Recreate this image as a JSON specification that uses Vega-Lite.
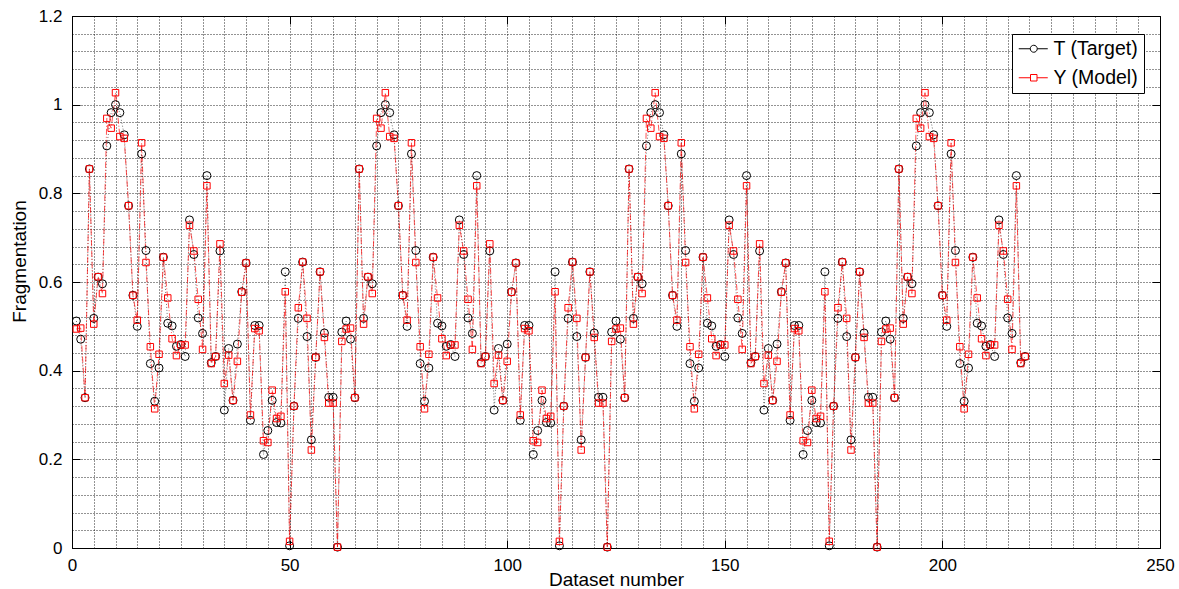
{
"$schema": "https://vega.github.io/schema/vega-lite/v6.json",
"width": 1088, "height": 532,
"autosize": {"type": "none"},
"padding": {"left": 72, "top": 16, "right": 19, "bottom": 41},
"background": "white",
"config": {
  "view": {"stroke": "black", "strokeWidth": 1},
  "font": "Liberation Sans",
  "axis": {"labelFont": "Liberation Sans", "titleFont": "Liberation Sans", "labelColor": "black", "titleColor": "black", "titleFontWeight": "normal", "tickColor": "black", "domainColor": "black"}
},
"datasets": {"d": [
{"n":1,"T":0.512,"Y":0.494},{"n":2,"T":0.471,"Y":0.496},{"n":3,"T":0.339,"Y":0.339},{"n":4,"T":0.855,"Y":0.855},{"n":5,"T":0.518,"Y":0.505},{"n":6,"T":0.611,"Y":0.612},{"n":7,"T":0.596,"Y":0.574},{"n":8,"T":0.907,"Y":0.969},{"n":9,"T":0.982,"Y":0.947},{"n":10,"T":1.0,"Y":1.027},
{"n":11,"T":0.982,"Y":0.928},{"n":12,"T":0.932,"Y":0.924},{"n":13,"T":0.772,"Y":0.772},{"n":14,"T":0.57,"Y":0.57},{"n":15,"T":0.5,"Y":0.514},{"n":16,"T":0.889,"Y":0.914},{"n":17,"T":0.671,"Y":0.644},{"n":18,"T":0.416,"Y":0.454},{"n":19,"T":0.331,"Y":0.314},{"n":20,"T":0.406,"Y":0.437},
{"n":21,"T":0.656,"Y":0.656},{"n":22,"T":0.507,"Y":0.564},{"n":23,"T":0.501,"Y":0.472},{"n":24,"T":0.455,"Y":0.434},{"n":25,"T":0.459,"Y":0.458},{"n":26,"T":0.432,"Y":0.458},{"n":27,"T":0.74,"Y":0.728},{"n":28,"T":0.662,"Y":0.67},{"n":29,"T":0.519,"Y":0.561},{"n":30,"T":0.484,"Y":0.448},
{"n":31,"T":0.84,"Y":0.817},{"n":32,"T":0.418,"Y":0.416},{"n":33,"T":0.432,"Y":0.432},{"n":34,"T":0.67,"Y":0.686},{"n":35,"T":0.311,"Y":0.371},{"n":36,"T":0.45,"Y":0.435},{"n":37,"T":0.333,"Y":0.333},{"n":38,"T":0.46,"Y":0.421},{"n":39,"T":0.578,"Y":0.577},{"n":40,"T":0.643,"Y":0.643},
{"n":41,"T":0.288,"Y":0.3},{"n":42,"T":0.502,"Y":0.495},{"n":43,"T":0.502,"Y":0.49},{"n":44,"T":0.211,"Y":0.242},{"n":45,"T":0.265,"Y":0.238},{"n":46,"T":0.333,"Y":0.356},{"n":47,"T":0.283,"Y":0.292},{"n":48,"T":0.282,"Y":0.297},{"n":49,"T":0.623,"Y":0.578},{"n":50,"T":0.005,"Y":0.015},
{"n":51,"T":0.32,"Y":0.32},{"n":52,"T":0.518,"Y":0.542},{"n":53,"T":0.645,"Y":0.645},{"n":54,"T":0.477,"Y":0.518},{"n":55,"T":0.244,"Y":0.221},{"n":56,"T":0.43,"Y":0.43},{"n":57,"T":0.623,"Y":0.623},{"n":58,"T":0.485,"Y":0.475},{"n":59,"T":0.34,"Y":0.327},{"n":60,"T":0.34,"Y":0.327},
{"n":61,"T":0.002,"Y":0.002},{"n":62,"T":0.487,"Y":0.466},
{"n":63,"T":0.512,"Y":0.494},{"n":64,"T":0.471,"Y":0.496},{"n":65,"T":0.339,"Y":0.339},{"n":66,"T":0.855,"Y":0.855},{"n":67,"T":0.518,"Y":0.505},{"n":68,"T":0.611,"Y":0.612},{"n":69,"T":0.596,"Y":0.574},{"n":70,"T":0.907,"Y":0.969},{"n":71,"T":0.982,"Y":0.947},{"n":72,"T":1.0,"Y":1.027},
{"n":73,"T":0.982,"Y":0.928},{"n":74,"T":0.932,"Y":0.924},{"n":75,"T":0.772,"Y":0.772},{"n":76,"T":0.57,"Y":0.57},{"n":77,"T":0.5,"Y":0.514},{"n":78,"T":0.889,"Y":0.914},{"n":79,"T":0.671,"Y":0.644},{"n":80,"T":0.416,"Y":0.454},{"n":81,"T":0.331,"Y":0.314},{"n":82,"T":0.406,"Y":0.437},
{"n":83,"T":0.656,"Y":0.656},{"n":84,"T":0.507,"Y":0.564},{"n":85,"T":0.501,"Y":0.472},{"n":86,"T":0.455,"Y":0.434},{"n":87,"T":0.459,"Y":0.458},{"n":88,"T":0.432,"Y":0.458},{"n":89,"T":0.74,"Y":0.728},{"n":90,"T":0.662,"Y":0.67},{"n":91,"T":0.519,"Y":0.561},{"n":92,"T":0.484,"Y":0.448},
{"n":93,"T":0.84,"Y":0.817},{"n":94,"T":0.418,"Y":0.416},{"n":95,"T":0.432,"Y":0.432},{"n":96,"T":0.67,"Y":0.686},{"n":97,"T":0.311,"Y":0.371},{"n":98,"T":0.45,"Y":0.435},{"n":99,"T":0.333,"Y":0.333},{"n":100,"T":0.46,"Y":0.421},{"n":101,"T":0.578,"Y":0.577},{"n":102,"T":0.643,"Y":0.643},
{"n":103,"T":0.288,"Y":0.3},{"n":104,"T":0.502,"Y":0.495},{"n":105,"T":0.502,"Y":0.49},{"n":106,"T":0.211,"Y":0.242},{"n":107,"T":0.265,"Y":0.238},{"n":108,"T":0.333,"Y":0.356},{"n":109,"T":0.283,"Y":0.292},{"n":110,"T":0.282,"Y":0.297},{"n":111,"T":0.623,"Y":0.578},{"n":112,"T":0.005,"Y":0.015},
{"n":113,"T":0.32,"Y":0.32},{"n":114,"T":0.518,"Y":0.542},{"n":115,"T":0.645,"Y":0.645},{"n":116,"T":0.477,"Y":0.518},{"n":117,"T":0.244,"Y":0.221},{"n":118,"T":0.43,"Y":0.43},{"n":119,"T":0.623,"Y":0.623},{"n":120,"T":0.485,"Y":0.475},{"n":121,"T":0.34,"Y":0.327},{"n":122,"T":0.34,"Y":0.327},
{"n":123,"T":0.002,"Y":0.002},{"n":124,"T":0.487,"Y":0.466},
{"n":125,"T":0.512,"Y":0.494},{"n":126,"T":0.471,"Y":0.496},{"n":127,"T":0.339,"Y":0.339},{"n":128,"T":0.855,"Y":0.855},{"n":129,"T":0.518,"Y":0.505},{"n":130,"T":0.611,"Y":0.612},{"n":131,"T":0.596,"Y":0.574},{"n":132,"T":0.907,"Y":0.969},{"n":133,"T":0.982,"Y":0.947},{"n":134,"T":1.0,"Y":1.027},
{"n":135,"T":0.982,"Y":0.928},{"n":136,"T":0.932,"Y":0.924},{"n":137,"T":0.772,"Y":0.772},{"n":138,"T":0.57,"Y":0.57},{"n":139,"T":0.5,"Y":0.514},{"n":140,"T":0.889,"Y":0.914},{"n":141,"T":0.671,"Y":0.644},{"n":142,"T":0.416,"Y":0.454},{"n":143,"T":0.331,"Y":0.314},{"n":144,"T":0.406,"Y":0.437},
{"n":145,"T":0.656,"Y":0.656},{"n":146,"T":0.507,"Y":0.564},{"n":147,"T":0.501,"Y":0.472},{"n":148,"T":0.455,"Y":0.434},{"n":149,"T":0.459,"Y":0.458},{"n":150,"T":0.432,"Y":0.458},{"n":151,"T":0.74,"Y":0.728},{"n":152,"T":0.662,"Y":0.67},{"n":153,"T":0.519,"Y":0.561},{"n":154,"T":0.484,"Y":0.448},
{"n":155,"T":0.84,"Y":0.817},{"n":156,"T":0.418,"Y":0.416},{"n":157,"T":0.432,"Y":0.432},{"n":158,"T":0.67,"Y":0.686},{"n":159,"T":0.311,"Y":0.371},{"n":160,"T":0.45,"Y":0.435},{"n":161,"T":0.333,"Y":0.333},{"n":162,"T":0.46,"Y":0.421},{"n":163,"T":0.578,"Y":0.577},{"n":164,"T":0.643,"Y":0.643},
{"n":165,"T":0.288,"Y":0.3},{"n":166,"T":0.502,"Y":0.495},{"n":167,"T":0.502,"Y":0.49},{"n":168,"T":0.211,"Y":0.242},{"n":169,"T":0.265,"Y":0.238},{"n":170,"T":0.333,"Y":0.356},{"n":171,"T":0.283,"Y":0.292},{"n":172,"T":0.282,"Y":0.297},{"n":173,"T":0.623,"Y":0.578},{"n":174,"T":0.005,"Y":0.015},
{"n":175,"T":0.32,"Y":0.32},{"n":176,"T":0.518,"Y":0.542},{"n":177,"T":0.645,"Y":0.645},{"n":178,"T":0.477,"Y":0.518},{"n":179,"T":0.244,"Y":0.221},{"n":180,"T":0.43,"Y":0.43},{"n":181,"T":0.623,"Y":0.623},{"n":182,"T":0.485,"Y":0.475},{"n":183,"T":0.34,"Y":0.327},{"n":184,"T":0.34,"Y":0.327},
{"n":185,"T":0.002,"Y":0.002},{"n":186,"T":0.487,"Y":0.466},
{"n":187,"T":0.512,"Y":0.494},{"n":188,"T":0.471,"Y":0.496},{"n":189,"T":0.339,"Y":0.339},{"n":190,"T":0.855,"Y":0.855},{"n":191,"T":0.518,"Y":0.505},{"n":192,"T":0.611,"Y":0.612},{"n":193,"T":0.596,"Y":0.574},{"n":194,"T":0.907,"Y":0.969},{"n":195,"T":0.982,"Y":0.947},{"n":196,"T":1.0,"Y":1.027},
{"n":197,"T":0.982,"Y":0.928},{"n":198,"T":0.932,"Y":0.924},{"n":199,"T":0.772,"Y":0.772},{"n":200,"T":0.57,"Y":0.57},{"n":201,"T":0.5,"Y":0.514},{"n":202,"T":0.889,"Y":0.914},{"n":203,"T":0.671,"Y":0.644},{"n":204,"T":0.416,"Y":0.454},{"n":205,"T":0.331,"Y":0.314},{"n":206,"T":0.406,"Y":0.437},
{"n":207,"T":0.656,"Y":0.656},{"n":208,"T":0.507,"Y":0.564},{"n":209,"T":0.501,"Y":0.472},{"n":210,"T":0.455,"Y":0.434},{"n":211,"T":0.459,"Y":0.458},{"n":212,"T":0.432,"Y":0.458},{"n":213,"T":0.74,"Y":0.728},{"n":214,"T":0.662,"Y":0.67},{"n":215,"T":0.519,"Y":0.561},{"n":216,"T":0.484,"Y":0.448},
{"n":217,"T":0.84,"Y":0.817},{"n":218,"T":0.418,"Y":0.416},{"n":219,"T":0.432,"Y":0.432}
]},
"data": {"name": "d"},
"layer": [
  {
    "mark": {"type": "line", "color": "black", "strokeWidth": 0.7, "strokeDash": [1, 2], "opacity": 0.8},
    "encoding": {
      "x": {"field": "n", "type": "quantitative", "scale": {"domain": [0, 250], "nice": false},
        "axis": {"values": [0,5,10,15,20,25,30,35,40,45,50,55,60,65,70,75,80,85,90,95,100,105,110,115,120,125,130,135,140,145,150,155,160,165,170,175,180,185,190,195,200,205,210,215,220,225,230,235,240,245,250],
          "labelExpr": "datum.value % 50 == 0 ? format(datum.value, 'd') : ''",
          "grid": true, "gridColor": "#000", "gridDash": [1, 2], "gridOpacity": 0.85, "gridWidth": 1,
          "domain": false, "ticks": true, "tickSize": -8,
          "tickOpacity": {"condition": {"test": "datum.value % 50 == 0", "value": 1}, "value": 0},
          "labelFontSize": 17, "labelPadding": 17, "labelFlush": false,
          "title": "Dataset number", "titleFontSize": 19, "titleBaseline": "middle", "titleY": 31}},
      "y": {"field": "T", "type": "quantitative", "scale": {"domain": [0, 1.2], "nice": false},
        "axis": {"values": [0,0.04,0.08,0.12,0.16,0.2,0.24,0.28,0.32,0.36,0.4,0.44,0.48,0.52,0.56,0.6,0.64,0.68,0.72,0.76,0.8,0.84,0.88,0.92,0.96,1,1.04,1.08,1.12,1.16,1.2],
          "labelExpr": "abs(datum.value*5 - round(datum.value*5)) < 0.000001 ? format(datum.value, '~g') : ''",
          "grid": true, "gridColor": "#000", "gridDash": [1, 2], "gridOpacity": 0.85, "gridWidth": 1,
          "domain": false, "ticks": true, "tickSize": -8,
          "tickOpacity": {"condition": {"test": "abs(datum.value*5 - round(datum.value*5)) < 0.000001", "value": 1}, "value": 0},
          "labelFontSize": 17, "labelPadding": 18, "labelFlush": false,
          "title": "Fragmentation", "titleFontSize": 19, "titleBaseline": "middle", "titleX": -53, "titleY": 245}}
    }
  },
  {
    "mark": {"type": "line", "color": "#ff0000", "strokeWidth": 0.8, "strokeDash": [6, 2, 1, 2], "opacity": 0.85},
    "encoding": {
      "x": {"field": "n", "type": "quantitative", "scale": {"domain": [0, 250], "nice": false},
        "axis": {"orient": "top", "values": [0,50,100,150,200,250], "labels": false, "grid": false, "domain": false, "tickSize": -8, "title": null}},
      "y": {"field": "Y", "type": "quantitative", "scale": {"domain": [0, 1.2], "nice": false},
        "axis": {"orient": "right", "values": [0,0.2,0.4,0.6,0.8,1,1.2], "labels": false, "grid": false, "domain": false, "tickSize": -8, "title": null}}
    }
  },
  {
    "mark": {"type": "point", "shape": "circle", "filled": false, "size": 64, "strokeWidth": 1, "opacity": 1, "color": "black"},
    "encoding": {
      "x": {"field": "n", "type": "quantitative", "axis": null},
      "y": {"field": "T", "type": "quantitative", "axis": null}
    }
  },
  {
    "mark": {"type": "point", "shape": "square", "filled": false, "size": 42, "strokeWidth": 1, "opacity": 1, "color": "#ff0000"},
    "encoding": {
      "x": {"field": "n", "type": "quantitative", "axis": null},
      "y": {"field": "Y", "type": "quantitative", "axis": null}
    }
  },
  {
    "transform": [{"filter": "datum.n < 0"}],
    "mark": {"type": "point", "filled": false, "strokeWidth": 1, "opacity": 1},
    "encoding": {
      "x": {"field": "n", "type": "quantitative", "axis": null},
      "y": {"field": "T", "type": "quantitative", "axis": null},
      "color": {"datum": "T (Target)", "type": "nominal",
        "scale": {"domain": ["T (Target)", "Y (Model)"], "range": ["black", "#ff0000"]},
        "legend": {"title": null, "orient": "none", "legendX": 940, "legendY": 18,
          "strokeColor": "black", "fillColor": "white", "padding": 5,
          "labelFont": "Liberation Sans", "labelFontSize": 19.5, "labelColor": "black",
          "symbolSize": 100, "symbolOffset": 7, "labelOffset": 10, "rowPadding": 8, "symbolStrokeWidth": 1}},
      "shape": {"datum": "T (Target)", "type": "nominal",
        "scale": {"domain": ["T (Target)", "Y (Model)"], "range": ["M-3.0,0L-0.7,0M0.7,0L2.8,0M0.7,0A0.7,0.7 0 1 1 -0.7,0A0.7,0.7 0 1 1 0.7,0", "M-3.0,0L-0.65,0M0.65,0L2.8,0M-0.65,-0.65L0.65,-0.65L0.65,0.65L-0.65,0.65Z"]},
        "legend": {"title": null, "orient": "none", "legendX": 940, "legendY": 18,
          "strokeColor": "black", "fillColor": "white", "padding": 5,
          "labelFont": "Liberation Sans", "labelFontSize": 19.5, "labelColor": "black",
          "symbolSize": 100, "symbolOffset": 7, "labelOffset": 10, "rowPadding": 8, "symbolStrokeWidth": 1}}
    }
  },
  {
    "transform": [{"filter": "datum.n < 0"}],
    "mark": {"type": "point", "filled": false, "strokeWidth": 1, "opacity": 1},
    "encoding": {
      "x": {"field": "n", "type": "quantitative", "axis": null},
      "y": {"field": "Y", "type": "quantitative", "axis": null},
      "color": {"datum": "Y (Model)", "type": "nominal"},
      "shape": {"datum": "Y (Model)", "type": "nominal"}
    }
  }
],
"resolve": {"axis": {"x": "independent", "y": "independent"}}
}
